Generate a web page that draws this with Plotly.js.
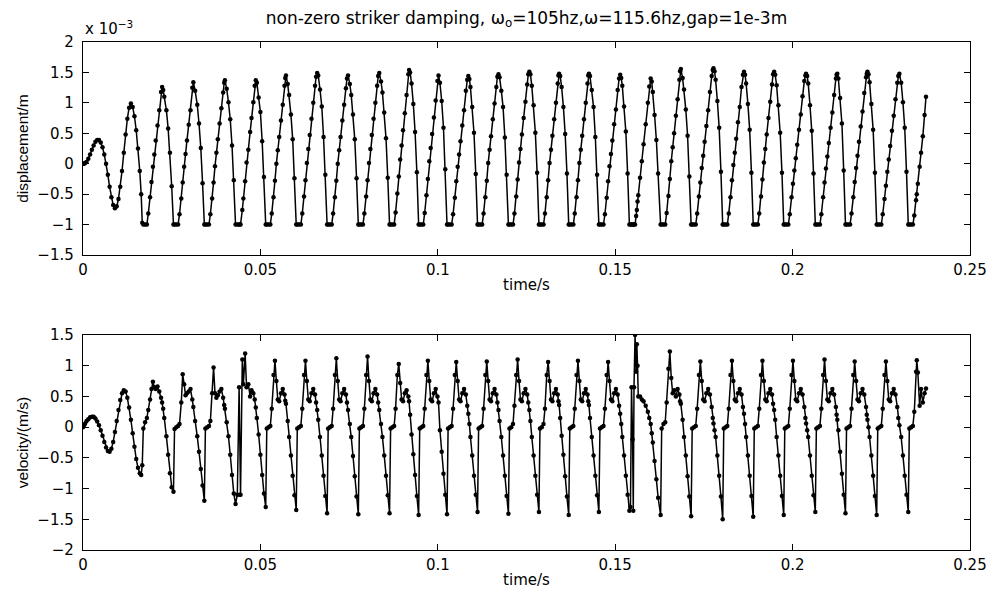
<!DOCTYPE html>
<html>
<head>
<meta charset="utf-8">
<script src="https://cdn.plot.ly/plotly-3.0.1.min.js"></script>
<style>html,body{margin:0;padding:0;background:#fff;}#chart{width:994px;height:593px;}</style>
</head>
<body>
<div id="chart"></div>
<script>
// time samples (s), shared by both panels (one line per impact cycle)
const time = [
  0,.0003,.0006,.0010,.0015,.0020,.0025,.0030,.0035,.0040,.0045,.0050,.0055,.0060,.0065,.0070,.0075,.0080,.0085,.0090,.0095,.0100,.0105,.0110,.0115,.0120,.0125,.0130,.0135,.0140,.0145,.0150,.0155,.0160,.0164,
  .0167,.0170,.0175,.0180,.0184,.0189,.0193,.0197,.0201,.0205,.0210,.0215,.0220,.0223,.0226,.0229,.0235,.0240,.0245,.0250,
  .0255,.0258,.0263,.0268,.0272,.0277,.0281,.0285,.0289,.0293,.0298,.0303,.0308,.0311,.0316,.0322,.0327,.0332,.0337,
  .0342,.0345,.0350,.0355,.0359,.0364,.0368,.0372,.0376,.0380,.0385,.0390,.0395,.0398,.0400,.0405,.0410,.0415,.0420,.0425,
  .0430,.0435,.0440,.0442,.0444,.0449,.0452,.0457,.0461,.0466,.0471,.0475,.0480,.0484,.0487,.0490,.0495,.0500,.0505,.0510,
  .0515,.0518,.0523,.0528,.0532,.0537,.0541,.0545,.0549,.0553,.0558,.0563,.0568,.0570,.0572,.0577,.0581,.0586,.0591,.0596,
  .0601,.0604,.0609,.0614,.0618,.0623,.0627,.0631,.0635,.0639,.0644,.0649,.0654,.0657,.0660,.0663,.0668,.0673,.0678,.0683,
  .0688,.0691,.0696,.0701,.0705,.0710,.0714,.0718,.0722,.0726,.0731,.0736,.0741,.0744,.0747,.0752,.0756,.0761,.0766,.0771,
  .0776,.0779,.0784,.0789,.0793,.0798,.0802,.0806,.0810,.0814,.0819,.0824,.0829,.0832,.0835,.0840,.0844,.0849,.0854,.0859,
  .0864,.0867,.0872,.0877,.0881,.0886,.0890,.0894,.0898,.0902,.0907,.0912,.0917,.0919,.0922,.0926,.0931,.0936,.0941,
  .0946,.0949,.0954,.0959,.0963,.0968,.0972,.0976,.0980,.0984,.0989,.0994,.0999,.1002,.1006,.1011,.1016,.1021,
  .1026,.1029,.1034,.1039,.1043,.1048,.1052,.1056,.1060,.1064,.1069,.1074,.1079,.1083,.1086,.1089,.1092,.1097,.1102,.1107,
  .1112,.1115,.1120,.1125,.1129,.1134,.1138,.1142,.1146,.1150,.1155,.1160,.1165,.1168,.1171,.1174,.1179,.1184,.1189,.1194,
  .1199,.1202,.1207,.1212,.1216,.1221,.1225,.1229,.1233,.1237,.1242,.1247,.1252,.1255,.1258,.1261,.1265,.1270,.1275,.1280,
  .1285,.1288,.1293,.1298,.1302,.1307,.1311,.1315,.1319,.1323,.1328,.1333,.1338,.1340,.1342,.1345,.1349,.1354,.1359,.1364,
  .1369,.1372,.1377,.1382,.1386,.1391,.1395,.1399,.1403,.1407,.1412,.1417,.1422,.1424,.1426,.1429,.1434,.1439,.1444,.1449,
  .1454,.1457,.1462,.1467,.1471,.1476,.1480,.1484,.1488,.1492,.1497,.1502,.1507,.1511,.1514,.1517,.1520,.1525,.1530,.1535,
  .1540,.1543,.1546,.1549,.1551,.1553,.1556,.1559,.1561,.1563,.1565,.1570,.1575,.1580,.1586,.1592,.1596,.1600,.1603,.1606,.1611,.1616,.1621,
  .1628,.1631,.1636,.1641,.1645,.1650,.1654,.1658,.1662,.1666,.1671,.1676,.1681,.1683,.1685,.1690,.1694,.1699,.1704,.1709,
  .1714,.1717,.1722,.1727,.1731,.1736,.1740,.1744,.1748,.1752,.1757,.1762,.1767,.1772,.1775,.1777,.1780,.1783,.1788,.1793,.1798,
  .1803,.1806,.1811,.1816,.1820,.1825,.1829,.1833,.1837,.1841,.1846,.1851,.1856,.1860,.1863,.1866,.1869,.1874,.1879,.1884,
  .1889,.1892,.1897,.1902,.1906,.1911,.1915,.1919,.1923,.1927,.1932,.1937,.1942,.1945,.1948,.1951,.1955,.1960,.1965,.1970,
  .1975,.1978,.1983,.1988,.1992,.1997,.2001,.2005,.2009,.2013,.2018,.2023,.2028,.2033,.2036,.2038,.2041,.2044,.2049,.2054,.2059,
  .2064,.2067,.2072,.2077,.2081,.2086,.2090,.2094,.2098,.2102,.2107,.2112,.2117,.2122,.2124,.2126,.2129,.2134,.2139,.2144,
  .2149,.2152,.2157,.2162,.2166,.2171,.2175,.2179,.2183,.2187,.2192,.2197,.2202,.2207,.2209,.2211,.2214,.2217,.2222,.2227,.2232,
  .2237,.2240,.2245,.2250,.2254,.2259,.2263,.2267,.2271,.2275,.2280,.2285,.2290,.2295,.2298,.2301,.2306,.2311,.2316,.2321,
  .2326,.2329,.2334,.2339,.2343,.2348,.2350,.2353,.2358,.2362,.2367,.2372,.2376
];

// displacement in units of 1e-3 m
const displacement = [
  0,0,.01,.03,.08,.15,.23,.30,.36,.39,.39,.35,.27,.15,0,-.18,-.38,-.55,-.68,-.73,-.70,-.58,-.38,-.12,.18,.48,.74,.92,.99,.93,.78,.55,.25,-.12,-.50,
  -.97,-1,-1,-1,-.82,-.55,-.30,-.05,.15,.38,.63,.88,1.18,1.26,1.21,1.10,.88,.58,.18,-.37,
  -1,-1,-1,-1,-.83,-.57,-.31,-.05,.16,.38,.64,.88,1.25,1.34,1.20,.97,.66,.26,-.32,
  -1,-1,-1,-1,-.83,-.57,-.31,-.04,.18,.40,.66,.91,1.17,1.33,1.37,1.23,1.01,.73,.30,-.27,
  -1,-1,-1,-1,-1,-.76,-.57,-.29,.02,.23,.52,.75,1.01,1.28,1.37,1.33,1.09,.85,.37,-.22,
  -1,-1,-1,-1,-.82,-.55,-.28,0,.22,.44,.71,.97,1.28,1.41,1.45,1.31,1.13,.81,.40,-.24,
  -1,-1,-1,-1,-.82,-.54,-.27,.01,.24,.47,.74,1.00,1.28,1.43,1.49,1.45,1.22,.94,.44,-.18,
  -1,-1,-1,-1,-.82,-.55,-.28,0,.22,.44,.71,.97,1.24,1.40,1.45,1.31,1.13,.81,.40,-.24,
  -1,-1,-1,-1,-.82,-.54,-.27,.01,.24,.47,.74,1.00,1.28,1.44,1.49,1.35,1.17,.84,.42,-.23,
  -1,-1,-1,-1,-.80,-.49,-.21,.07,.30,.55,.83,1.13,1.47,1.54,1.50,1.32,.98,.52,-.14,
  -1,-1,-1,-1,-.81,-.52,-.25,.04,.26,.49,.76,1.04,1.36,1.45,1.33,1.03,.59,-.09,
  -1,-1,-1,-1,-.83,-.56,-.29,-.05,.15,.37,.63,.88,1.20,1.38,1.44,1.39,1.26,.93,.51,-.17,
  -1,-1,-1,-1,-.82,-.55,-.28,.01,.23,.45,.73,.99,1.26,1.43,1.47,1.42,1.20,.93,.43,-.18,
  -1,-1,-1,-1,-.82,-.54,-.26,.02,.24,.48,.75,1.02,1.30,1.47,1.51,1.47,1.28,.96,.51,-.15,
  -1,-1,-1,-1,-.82,-.55,-.27,.01,.23,.46,.73,1.00,1.32,1.45,1.48,1.44,1.26,.93,.49,-.16,
  -1,-1,-1,-1,-.82,-.55,-.27,.01,.23,.46,.73,1.00,1.32,1.45,1.48,1.44,1.21,.93,.44,-.18,
  -1,-1,-1,-1,-.83,-.56,-.29,-.04,.16,.38,.65,.89,1.21,1.40,1.46,1.41,1.28,.94,.53,-.16,
  -1,-1,-1,-1,-1,-1,-1,-.86,-.76,-.62,-.52,-.23,.04,.32,.65,1.00,1.27,1.40,1.35,1.18,.80,.39,-.16,
  -1,-1,-1,-1,-.81,-.53,-.25,.04,.27,.50,.79,1.06,1.38,1.52,1.555,1.41,1.22,.89,.46,-.21,
  -1,-1,-1,-1,-.82,-.54,-.31,-.07,.13,.36,.62,.88,1.18,1.44,1.54,1.57,1.52,1.38,1.03,.59,-.13,
  -1,-1,-1,-1,-.82,-.55,-.27,-.02,.18,.41,.68,.93,1.26,1.46,1.51,1.46,1.32,.98,.56,-.15,
  -1,-1,-1,-1,-.82,-.54,-.26,.02,.24,.48,.75,1.02,1.30,1.47,1.51,1.46,1.29,.96,.51,-.15,
  -1,-1,-1,-1,-.83,-.55,-.33,-.11,.09,.31,.56,.81,1.11,1.36,1.45,1.48,1.44,1.32,.96,.54,-.16,
  -1,-1,-1,-1,-.83,-.55,-.31,-.08,.12,.34,.59,.84,1.13,1.40,1.46,1.48,1.40,1.08,.66,-.11,
  -1,-1,-1,-1,-.82,-.55,-.30,-.07,.13,.36,.61,.86,1.16,1.42,1.48,1.51,1.47,1.34,.98,.56,-.15,
  -1,-1,-1,-1,-.83,-.58,-.36,-.13,.07,.29,.54,.79,1.06,1.33,1.44,1.48,1.33,1.01,.59,-.13,
  -1,-1,-1,-1,-.85,-.60,-.50,-.33,-.05,.18,.45,.80,1.10
];

// velocity in m/s
const velocity = [
  0,.03,.06,.10,.13,.16,.17,.17,.14,.09,.03,-.05,-.14,-.24,-.33,-.39,-.40,-.35,-.24,-.08,.10,.28,.44,.55,.60,.58,.48,.32,.12,-.10,-.32,-.52,-.66,-.75,-.78,
  -.62,-.02,.08,.15,.28,.45,.62,.74,.65,.62,.66,.58,.48,.40,.30,.15,-.15,-.45,-.75,-.98,
  -1.05,-.03,0,.02,.05,.40,.86,.70,.52,.55,.58,.62,.45,.33,.10,-.15,-.40,-.68,-.95,
  -1.20,-.02,0,.02,.10,.55,.97,.55,.48,.52,.58,.62,.48,.36,.30,.08,-.15,-.45,-.78,-1.08,
  -1.25,-1.10,.65,-1.10,-1.10,1.10,.70,1.20,.65,.70,.50,.60,.55,.45,.32,.15,-.12,-.45,-.78,-1.08,
  -1.30,-.02,0,.02,.30,.85,1.08,.75,.45,.42,.55,.62,.53,.43,.38,.10,-.16,-.46,-.79,-1.11,
  -1.35,-.02,0,.02,.30,.85,1.08,.75,.45,.42,.55,.62,.53,.40,.28,.12,-.16,-.46,-.79,-1.12,
  -1.40,-.02,0,.02,.30,.85,1.12,.75,.45,.42,.55,.62,.53,.40,.28,.05,-.16,-.47,-.80,-1.13,
  -1.42,-.02,0,.02,.30,.85,1.15,.75,.45,.42,.55,.62,.53,.40,.28,.05,-.16,-.46,-.79,-1.11,
  -1.40,-.02,0,.02,.30,.85,1.03,.72,.45,.42,.55,.60,.50,.42,.20,-.12,-.44,-.78,-1.12,
  -1.43,-.02,0,.02,.30,.85,1.08,.75,.45,.42,.55,.62,.50,.40,-.05,-.40,-.76,-1.10,
  -1.42,-.02,0,.02,.30,.85,1.06,.75,.45,.42,.55,.62,.53,.35,.22,.05,-.16,-.46,-.79,-1.10,
  -1.38,-.02,0,.02,.30,.85,1.07,.75,.45,.42,.55,.62,.53,.40,.28,.10,-.16,-.46,-.79,-1.12,
  -1.41,-.02,0,.05,.35,.85,1.10,.75,.45,.42,.55,.62,.53,.40,.28,.10,-.16,-.46,-.79,-1.10,
  -1.38,-.02,0,.05,.30,.85,1.06,.75,.45,.42,.55,.62,.53,.42,.36,.15,-.14,-.45,-.80,-1.13,
  -1.43,-.02,0,.02,.30,.85,1.08,.75,.45,.42,.55,.62,.53,.42,.36,.15,-.16,-.46,-.79,-1.11,
  -1.38,-.02,0,.02,.30,.85,1.06,.75,.45,.42,.55,.62,.53,.35,.22,.05,-.16,-.46,-.79,-1.10,
  -1.36,-1.30,.65,-.20,-1.36,.65,1.50,.90,1.35,1.00,.50,.50,.45,.42,.35,.25,.15,.05,-.10,-.25,-.55,-.85,-1.15,
  -1.43,-.02,.05,.08,.40,.95,1.23,.80,.55,.60,.50,.62,.53,.42,.38,.12,-.16,-.46,-.80,-1.13,
  -1.45,-.02,0,.02,.30,.85,1.07,.75,.45,.42,.55,.62,.53,.33,.15,.06,-.05,-.16,-.46,-.79,-1.13,
  -1.50,-.02,0,.02,.30,.85,1.08,.75,.45,.42,.55,.62,.53,.33,.22,.05,-.16,-.46,-.79,-1.12,
  -1.46,-.02,0,.02,.30,.85,1.08,.75,.45,.42,.55,.62,.53,.38,.28,.12,-.16,-.46,-.79,-1.12,
  -1.43,-.02,0,.02,.30,.85,1.08,.75,.45,.42,.55,.62,.53,.33,.15,.06,-.05,-.16,-.46,-.79,-1.11,
  -1.38,-.02,0,.02,.30,.85,1.10,.75,.45,.42,.55,.62,.53,.33,.20,.12,-.05,-.40,-.76,-1.10,
  -1.40,-.02,0,.02,.30,.85,1.07,.75,.45,.42,.55,.62,.53,.33,.20,.12,0,-.16,-.46,-.79,-1.12,
  -1.43,-.02,0,.02,.30,.85,1.07,.75,.45,.42,.55,.62,.53,.33,.15,.03,-.16,-.46,-.79,-1.10,
  -1.38,-.02,0,.02,.25,.90,1.09,.89,.35,.62,.40,.55,.63
];

// axis ticks
const xTickVals = [0, 0.05, 0.1, 0.15, 0.2, 0.25];
const xTickText = ['0', '0.05', '0.1', '0.15', '0.2', '0.25'];
const dispTickVals = [-1.5, -1, -0.5, 0, 0.5, 1, 1.5, 2];
const dispTickText = ['\u22121.5', '\u22121', '\u22120.5', '0', '0.5', '1', '1.5', '2'];
const velTickVals = [-2, -1.5, -1, -0.5, 0, 0.5, 1, 1.5];
const velTickText = ['\u22122', '\u22121.5', '\u22121', '\u22120.5', '0', '0.5', '1', '1.5'];

if (time.length !== displacement.length || time.length !== velocity.length) {
  console.error('length mismatch', time.length, displacement.length, velocity.length);
}

const TFONT = 'DejaVu Sans, Liberation Sans, Arial, sans-serif';
const VFONT = 'Liberation Sans, Arial, Helvetica, sans-serif';
const lineStyle = {color: '#000', width: 1.5};
const markerStyle = {color: '#000', size: 4.5, symbol: 'circle'};

const traces = [
  {x: time, y: displacement, xaxis: 'x', yaxis: 'y', mode: 'lines+markers',
   line: lineStyle, marker: markerStyle, hoverinfo: 'skip'},
  {x: time, y: velocity, xaxis: 'x2', yaxis: 'y2', mode: 'lines+markers',
   line: lineStyle, marker: markerStyle, hoverinfo: 'skip'}
];

function xAxis(anchor) {
  return {
    anchor: anchor, domain: [0, 1], range: [0, 0.25],
    tickmode: 'array', tickvals: xTickVals, ticktext: xTickText,
    ticks: 'inside', ticklen: 6, tickcolor: '#000', tickwidth: 1,
    showline: true, linecolor: '#000', linewidth: 1.2, mirror: 'ticks',
    showgrid: false, zeroline: false,
    tickfont: {family: TFONT, size: 15, color: '#000'},
    ticklabelstandoff: 1,
    title: {text: 'time/s', font: {family: TFONT, size: 15, color: '#000'}, standoff: 1}
  };
}
function yAxis(anchor, domain, range, vals, text, title) {
  return {
    anchor: anchor, domain: domain, range: range,
    tickmode: 'array', tickvals: vals, ticktext: text,
    ticks: 'inside', ticklen: 6, tickcolor: '#000', tickwidth: 1,
    showline: true, linecolor: '#000', linewidth: 1.2, mirror: 'ticks',
    showgrid: false, zeroline: false,
    tickfont: {family: TFONT, size: 15, color: '#000'},
    ticklabelstandoff: 5,
    title: {text: title, font: {family: VFONT, size: 15.5, color: '#000'}, standoff: 5}
  };
}

const layout = {
  width: 994, height: 593,
  margin: {l: 83, r: 24, t: 42, b: 43, pad: 0},
  paper_bgcolor: '#fff', plot_bgcolor: '#fff',
  showlegend: false,
  font: {family: TFONT, color: '#000'},
  title: {
    text: 'non-zero striker damping, ω<sub>o</sub>=105hz,ω=115.6hz,gap=1e-3m',
    font: {family: TFONT, size: 17, color: '#000'},
    xref: 'paper', x: 0.5, xanchor: 'center',
    yref: 'container', y: 0.970, yanchor: 'middle'
  },
  xaxis: xAxis('y'),
  yaxis: yAxis('x', [0.5807, 1], [-1.5, 2], dispTickVals, dispTickText, 'displacement/m'),
  xaxis2: xAxis('y2'),
  yaxis2: yAxis('x2', [0, 0.4232], [-2, 1.5], velTickVals, velTickText, 'velocity/(m/s)'),
  annotations: [{
    text: 'x 10<sup>\u22123</sup>', xref: 'paper', yref: 'paper', x: 0, y: 1,
    xanchor: 'left', yanchor: 'bottom', yshift: 2, showarrow: false,
    font: {family: TFONT, size: 15, color: '#000'}
  }]
};

Plotly.newPlot('chart', traces, layout, {staticPlot: true, displayModeBar: false});
</script>
</body>
</html>
